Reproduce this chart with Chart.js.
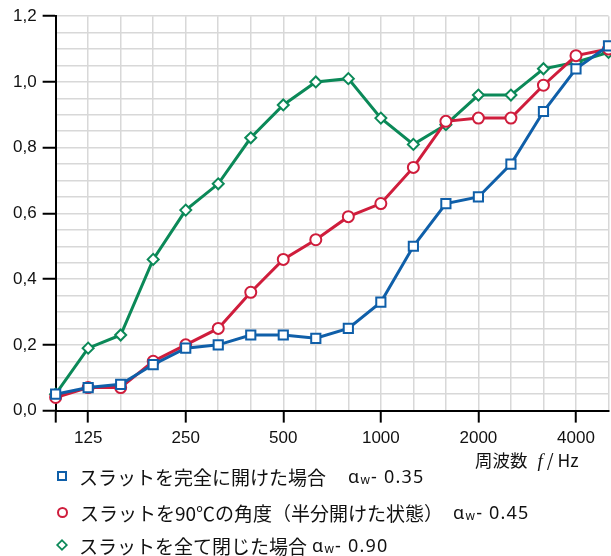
<!DOCTYPE html>
<html>
<head>
<meta charset="utf-8">
<script src="https://cdn.jsdelivr.net/npm/chart.js@4/dist/chart.umd.min.js"></script>
<style>
  html, body { margin: 0; padding: 0; background: #fff; }
  #wrap { position: relative; width: 611px; height: 556px; overflow: hidden; }
  #c { position: absolute; left: 0; top: 0; }
  .lbl { position: absolute; font-family: "Noto Sans CJK JP", "Liberation Sans", sans-serif; color: #111; white-space: nowrap; }
  #xtitle { font-size: 17.5px; left: 475px; top: 447px; }
  #xtitle i { font-family: "Liberation Serif", serif; font-size: 19px; margin: 0 4px 0 10px; }
  .row { position: absolute; left: 57px; height: 24px; display: flex; align-items: center; font-family: "Noto Sans CJK JP", sans-serif; font-size: 19px; color: #111; white-space: nowrap; }
  .mk { width: 6px; height: 6px; border: 2px solid; box-sizing: content-box; background: #fff; margin-right: 12px; flex: none; }
  .aw { font-family: "Noto Sans", "DejaVu Sans", sans-serif; font-size: 18px; letter-spacing: 1.2px; }
  .aw sub { font-size: 12px; vertical-align: -1px; }
</style>
</head>
<body>
<div id="wrap">
  <canvas id="c" width="617" height="556"></canvas>
  <div class="lbl" id="xtitle">周波数<i>f</i>/ Hz</div>
  <div id="legend"></div>
</div>
<script>
const categories = ["100","125","160","200","250","315","400","500","630","800","1000","1250","1600","2000","2500","3150","4000","5000"];
const labeledTicks = ["125","250","500","1000","2000","4000"];
const seriesNames = ["スラットを完全に開けた場合", "スラットを90℃の角度（半分開けた状態）", "スラットを全て閉じた場合"];
const seriesRatings = ["0.35", "0.45", "0.90"];
const openValues   = [0.05,0.07,0.08,0.14,0.19,0.20,0.23,0.23,0.22,0.25,0.33,0.50,0.63,0.65,0.75,0.91,1.04,1.11];
const halfValues   = [0.04,0.07,0.07,0.15,0.20,0.25,0.36,0.46,0.52,0.59,0.63,0.74,0.88,0.89,0.89,0.99,1.08,1.10];
const closedValues = [0.05,0.19,0.23,0.46,0.61,0.69,0.83,0.93,1.00,1.01,0.89,0.81,0.87,0.96,0.96,1.04,1.06,1.09];

const colors = ["#0f5fa9", "#cf1d3c", "#0b8958"];
const styles = ["rect", "circle", "rectRot"];
const radii = [6.5, 5.5, 5.5];
const values = [openValues, halfValues, closedValues];

const datasets = values.map((v, i) => ({
  label: seriesNames[i],
  data: v,
  borderColor: colors[i],
  backgroundColor: "#fff",
  borderWidth: 3,
  pointStyle: styles[i],
  pointRadius: radii[i],
  pointHoverRadius: radii[i],
  pointBackgroundColor: "#fff",
  pointBorderColor: colors[i],
  pointBorderWidth: 2,
  tension: 0,
  clip: false
}));

new Chart(document.getElementById("c"), {
  type: "line",
  data: { labels: categories, datasets },
  options: {
    responsive: false,
    animation: false,
    devicePixelRatio: 1,
    layout: { padding: { left: 7, right: 3, top: 16, bottom: 101 } },
    plugins: { legend: { display: false }, tooltip: { enabled: false } },
    scales: {
      x: {
        type: "category",
        offset: false,
        border: { display: true, color: "#000", width: 2 },
        grid: {
          color: "#d8d8d8",
          lineWidth: 1.5,
          tickLength: 12,
          tickWidth: 2,
          tickColor: ctx => (ctx.index === 0 || labeledTicks.includes(categories[ctx.index])) ? "#000" : "rgba(0,0,0,0)"
        },
        ticks: {
          autoSkip: false,
          maxRotation: 0,
          padding: 6,
          color: "#111",
          font: { family: "Liberation Sans", size: 17 },
          callback: (val, idx) => labeledTicks.includes(categories[idx]) ? categories[idx] : ""
        }
      },
      y: {
        min: 0,
        max: 1.2,
        border: { display: true, color: "#000", width: 2 },
        grid: {
          color: "#d8d8d8",
          lineWidth: 1.5,
          tickLength: 13,
          tickWidth: 2,
          tickColor: ctx => (Math.round(ctx.tick.value * 100) % 20 === 0) ? "#000" : "rgba(0,0,0,0)"
        },
        ticks: {
          stepSize: 0.05,
          autoSkip: false,
          padding: 6,
          color: "#111",
          font: { family: "Liberation Sans", size: 17 },
          callback: v => (Math.round(v * 100) % 20 === 0) ? v.toFixed(1).replace(".", ",") : ""
        }
      }
    }
  }
});

// HTML legend built from the series arrays
const legend = document.getElementById("legend");
const rowTops = [464, 500, 533];
const rowGaps = ["22px", "10px", "5px"];
const shapes = [
  "",
  "border-radius:50%;width:7px;height:7px;",
  "transform:rotate(45deg) scale(0.85);"
];
seriesNames.forEach((name, i) => {
  const row = document.createElement("div");
  row.className = "row";
  row.style.top = rowTops[i] + "px";
  row.innerHTML = `<span class="mk" style="border-color:${colors[i]};${shapes[i]}"></span>` +
    `<span>${name}</span><span class="aw" style="margin-left:${rowGaps[i]}">α<sub>w</sub>- ${seriesRatings[i]}</span>`;
  legend.appendChild(row);
});
</script>
</body>
</html>
